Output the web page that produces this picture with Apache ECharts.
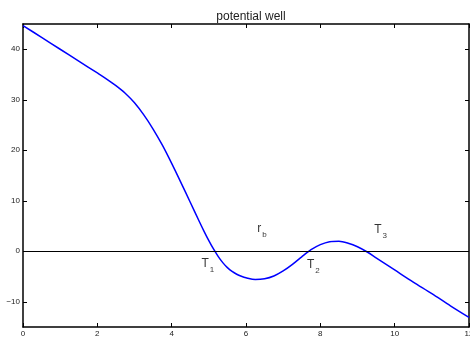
<!DOCTYPE html>
<html>
<head>
<meta charset="utf-8">
<script src="https://cdn.jsdelivr.net/npm/echarts@6/dist/echarts.min.js"></script>
<style>
  html, body { margin: 0; padding: 0; background: #fff; }
  #chart { width: 470px; height: 343px; }
</style>
</head>
<body>
<div id="chart"></div>
<script>
// potential values
const rValues = [0, 0.5, 1, 1.5, 2, 2.25, 2.5, 2.75, 3, 3.25, 3.5, 3.75, 4, 4.25, 4.5, 4.75, 4.875, 5, 5.125, 5.25, 5.375, 5.5, 5.625, 5.75, 5.875, 6, 6.25, 6.5, 6.75, 7, 7.25, 7.5, 7.75, 8, 8.25, 8.5, 8.75, 9, 9.25, 9.5, 10, 10.5, 11, 11.5, 12];
const wellValues = [44.7, 42.35, 40.0, 37.65, 35.3, 34.1, 32.8, 31.3, 29.4, 27.0, 24.2, 21.0, 17.4, 13.6, 9.7, 5.8, 3.9, 2.1, 0.45, -1.0, -2.25, -3.25, -4.0, -4.55, -4.95, -5.25, -5.6, -5.45, -4.9, -3.9, -2.6, -1.1, 0.3, 1.3, 1.9, 2.0, 1.6, 0.9, -0.1, -1.3, -3.7, -6.1, -8.4, -10.8, -13.1];

// annotations (label text + where it sits)
const noteX = [6.3, 4.8, 7.64, 9.45];
const noteY = [4.4, -2.4, -2.7, 4.3];
const noteMain = ["r", "T", "T", "T"];
const noteSub = ["b", "1", "2", "3"];

const xTicks = [0, 2, 4, 6, 8, 10, 12];
const yTicks = [-10, 0, 10, 20, 30, 40];

const font = "Liberation Sans, Helvetica, Arial, sans-serif";

let mychart = echarts.init(document.getElementById("chart"));

const axisBase = {
  axisLine: { onZero: false, lineStyle: { color: "#000", width: 1.5 } },
  axisTick: { inside: true, length: 4, lineStyle: { color: "#000", width: 1 } },
  splitLine: { show: false },
};

// matlab style minus sign
const fmtNum = (v) => String(v).replace("-", "\u2212");

let option = {
  animation: false,
  title: {
    text: "potential well",
    left: 246,
    textAlign: "center",
    top: 6,
    textStyle: { fontFamily: font, fontSize: 12, fontWeight: "normal", color: "#222" },
  },
  grid: { left: 23, right: 1, top: 24, bottom: 16, outerBoundsMode: "none", containLabel: false },
  xAxis: [
    {
      ...axisBase,
      type: "value",
      position: "bottom",
      min: xTicks[0],
      max: xTicks[xTicks.length - 1],
      interval: 2,
      name: "r",
      nameLocation: "middle",
      nameGap: 12,
      nameTextStyle: { fontFamily: font, fontSize: 8, color: "#222" },
      axisLabel: { fontFamily: font, fontSize: 8, color: "#222", margin: 3 },
    },
    {
      ...axisBase,
      type: "value",
      position: "top",
      min: xTicks[0],
      max: xTicks[xTicks.length - 1],
      interval: 2,
      axisLabel: { show: false },
    },
  ],
  yAxis: [
    {
      ...axisBase,
      type: "value",
      position: "left",
      min: -15,
      max: 45,
      axisTick: { ...axisBase.axisTick, customValues: yTicks },
      axisLabel: { fontFamily: font, fontSize: 8, color: "#222", margin: 3, customValues: yTicks, formatter: fmtNum },
    },
    {
      ...axisBase,
      type: "value",
      position: "right",
      min: -15,
      max: 45,
      axisTick: { ...axisBase.axisTick, customValues: yTicks },
      axisLabel: { show: false, customValues: yTicks },
    },
  ],
  series: [
    {
      name: "well",
      type: "line",
      smooth: 0.3,
      showSymbol: false,
      lineStyle: { color: "#0000ff", width: 1.5 },
      data: rValues.map((r, i) => [r, wellValues[i]]),
      markLine: {
        silent: true,
        symbol: "none",
        label: { show: false },
        lineStyle: { color: "#000", width: 1, type: "solid" },
        data: [{ yAxis: 0 }],
      },
      z: 3,
    },
    {
      name: "notes",
      type: "scatter",
      symbolSize: 0,
      data: noteX.map((x, i) => [x, noteY[i], i]),
      label: {
        show: true,
        position: "right",
        distance: 0,
        formatter: (p) => "{m|" + noteMain[p.value[2]] + "}{s|" + noteSub[p.value[2]] + "}",
        rich: {
          m: { fontFamily: font, fontSize: 12, color: "#000" },
          s: { fontFamily: font, fontSize: 8, color: "#000", padding: [12, 0, 0, 1] },
        },
      },
    },
  ],
};
mychart.setOption(option);
</script>
</body>
</html>
